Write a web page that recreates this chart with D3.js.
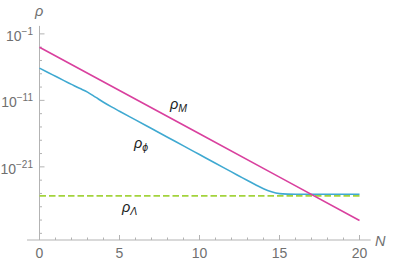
<!DOCTYPE html>
<html><head><meta charset="utf-8">
<script src="https://cdn.jsdelivr.net/npm/d3@7"></script>
<style>
html,body{margin:0;padding:0;background:#fff;}
svg{display:block;}
text{font-family:"Liberation Sans",Arial,sans-serif;}
</style></head>
<body><svg id="c" width="395" height="263"></svg>
<script>
// ---- data (log10 of rho) ----
const nM = [0, 5, 10, 15, 20];
const rhoMLog10 = [-3.0, -9.52, -16.03, -22.55, -29.06];

const nPhi = [0,0.5,1,1.5,2,2.5,3,3.5,4,4.5,5,6,7,8,9,10,11,12,12.5,13,13.5,14,14.5,15,15.5,16,17,18,19,20];
const rhoPhiLog10 = [-6.15,-6.77,-7.38,-7.99,-8.59,-9.19,-9.76,-10.51,-11.28,-11.98,-12.64,-13.94,-15.24,-16.54,-17.85,-19.15,-20.45,-21.76,-22.41,-23.06,-23.69,-24.29,-24.74,-25.02,-25.10,-25.12,-25.13,-25.13,-25.13,-25.13];

const nL = [0, 20];
const rhoLLog10 = [-25.36, -25.36];

const xMajorTicks = [0, 5, 10, 15, 20];
const xMinorTicks = [1,2,3,4,6,7,8,9,11,12,13,14,16,17,18,19];
const yMajorExp = [-1, -11, -21];
const yMinorExp = [-3,-5,-7,-9,-13,-15,-17,-19,-23,-25,-27,-29,-31];

const colM = "#d9409e", colPhi = "#3fa9d1", colL = "#a3d33c", axisCol = "#b3b3b3", labCol = "#707070";

const svg = d3.select("#c");
const x = d3.scaleLinear().domain([0, 20]).range([39.5, 359.5]);
const y = d3.scaleLog().domain([1e-32, Math.pow(10, 0.2)]).range([240, 25.9]);

// axes lines
svg.append("line").attr("x1", x(-0.78)).attr("x2", x(20.7)).attr("y1", 240).attr("y2", 240).attr("stroke", axisCol).attr("stroke-width", 1);
svg.append("line").attr("x1", x(0)).attr("x2", x(0)).attr("y1", y(Math.pow(10,0.2))).attr("y2", 240).attr("stroke", axisCol).attr("stroke-width", 1);

// x ticks
svg.selectAll(".xmaj").data(xMajorTicks).enter().append("line")
  .attr("x1", d => x(d)).attr("x2", d => x(d)).attr("y1", 240).attr("y2", 235)
  .attr("stroke", axisCol);
svg.selectAll(".xmin").data(xMinorTicks).enter().append("line")
  .attr("x1", d => x(d)).attr("x2", d => x(d)).attr("y1", 240).attr("y2", 237.5)
  .attr("stroke", axisCol);
svg.selectAll(".xlab").data(xMajorTicks).enter().append("text")
  .attr("x", d => x(d)).attr("y", 258).attr("text-anchor", "middle")
  .attr("font-size", 14).attr("fill", labCol).text(d => d);

// y ticks
svg.selectAll(".ymaj").data(yMajorExp).enter().append("line")
  .attr("x1", x(0)).attr("x2", x(0) + 5).attr("y1", d => y(Math.pow(10, d))).attr("y2", d => y(Math.pow(10, d)))
  .attr("stroke", axisCol);
svg.selectAll(".ymin").data(yMinorExp).enter().append("line")
  .attr("x1", x(0)).attr("x2", x(0) + 2.5).attr("y1", d => y(Math.pow(10, d))).attr("y2", d => y(Math.pow(10, d)))
  .attr("stroke", axisCol);
const yl = svg.selectAll(".ylab").data(yMajorExp).enter().append("text")
  .attr("x", 33).attr("y", d => y(Math.pow(10, d)) + 7).attr("text-anchor", "end")
  .attr("font-size", 14).attr("fill", labCol);
yl.append("tspan").text("10");
yl.append("tspan").attr("dy", -6).attr("font-size", 10).text(d => "\u2212" + Math.abs(d));

// axis labels
svg.append("text").attr("x", 35).attr("y", 16).attr("font-size", 14.5).attr("font-style", "italic").attr("fill", labCol).text("\u03c1");
svg.append("text").attr("x", 375).attr("y", 246).attr("font-size", 14.5).attr("font-style", "italic").attr("fill", labCol).text("N");

// lines
const line = d3.line().x(d => x(d[0])).y(d => y(Math.pow(10, d[1])));
const lineSmooth = d3.line().x(d => x(d[0])).y(d => y(Math.pow(10, d[1]))).curve(d3.curveMonotoneX);

svg.append("path").datum(nPhi.map((n, i) => [n, rhoPhiLog10[i]])).attr("d", lineSmooth)
  .attr("fill", "none").attr("stroke", colPhi).attr("stroke-width", 1.6);
svg.append("path").datum(nL.map((n, i) => [n, rhoLLog10[i]])).attr("d", line)
  .attr("fill", "none").attr("stroke", colL).attr("stroke-width", 1.6).attr("stroke-dasharray", "6.5,3");
svg.append("path").datum(nM.map((n, i) => [n, rhoMLog10[i]])).attr("d", line)
  .attr("fill", "none").attr("stroke", colM).attr("stroke-width", 1.6);

// series labels
function lab(xp, yp, sub) {
  const t = svg.append("text").attr("x", xp).attr("y", yp).attr("font-size", 14.5).attr("font-style", "italic").attr("fill", "#222");
  t.append("tspan").text("\u03c1");
  t.append("tspan").attr("dy", 3).attr("font-size", 10.5).text(sub);
}
lab(170, 109, "M");
lab(134, 148, "\u03d5");
lab(122, 212, "\u039b");
</script></body></html>
